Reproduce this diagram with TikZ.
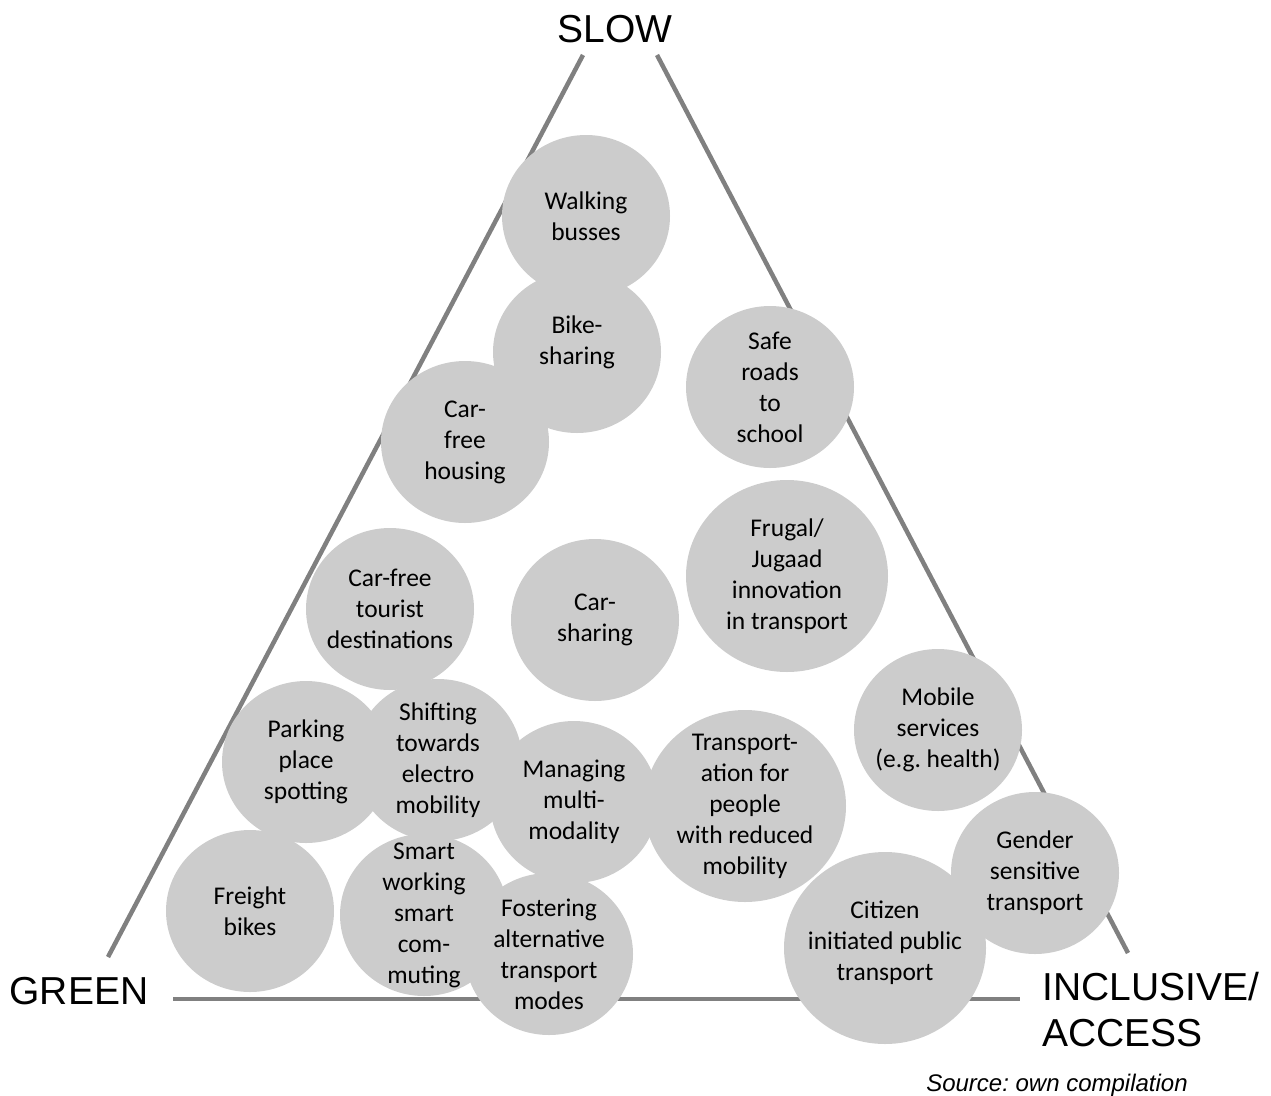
\documentclass[tikz,border=0pt]{standalone}
\usepackage{fontspec}
\setmainfont{Carlito}
\newfontfamily\arialfont{Liberation Sans}
\usetikzlibrary{shapes.geometric}
\definecolor{bubblegray}{RGB}{204,204,204}
\definecolor{axisgray}{RGB}{128,128,128}
\frenchspacing
\begin{document}
\begin{tikzpicture}[x=1pt,y=-1pt,
   bubble/.style={ellipse,fill=bubblegray,minimum width=168pt,minimum height=162pt,inner sep=0pt},
   big/.style={minimum width=202pt,minimum height=192pt},
   txt/.style={align=center,inner sep=0pt,font=\fontsize{25.5}{31}\selectfont},
   corner/.style={inner sep=0pt,font=\arialfont\fontsize{39}{46}\selectfont},
   axis/.style={draw=axisgray,line width=4.5pt}]
   \useasboundingbox (0,0) rectangle (1271,1095);
   % triangle
   \coordinate (topL) at (583,55);
   \coordinate (topR) at (657,55);
   \coordinate (leftB) at (108,957);
   \coordinate (rightB) at (1128,953);
   \coordinate (botL) at (173,999);
   \coordinate (botR) at (1020,999);
   \draw[axis] (topL) -- (leftB);
   \draw[axis] (topR) -- (rightB);
   \draw[axis] (botL) -- (botR);
   \node[corner] (slow) at (615,29) {SLOW};
   \node[corner] (green) at (79,991) {GREEN};
   \node[corner,align=left,anchor=west] (access) at (1042,1010) {INCLUSIVE/\\ACCESS};
   \node[inner sep=0pt,anchor=base,font=\arialfont\itshape\fontsize{24}{28}\selectfont] (source) at (1057,1091) {Source: own compilation};
   % bubbles
   \node[bubble] (walk) at (586,216) {};
   \node[bubble] (bike) at (577,352) {};
   \node[bubble] (housing) at (465,442) {};
   \node[bubble] (school) at (770,387) {};
   \node[bubble] (tourist) at (390,609) {};
   \node[bubble] (carshare) at (595,620) {};
   \node[bubble,big] (frugal) at (787,576) {};
   \node[bubble] (mobile) at (938,730) {};
   \node[bubble] (parking) at (306,762) {};
   \node[bubble] (electro) at (438,760) {};
   \node[bubble] (multi) at (574,802) {};
   \node[bubble,big] (reduced) at (745,806) {};
   \node[bubble] (gender) at (1035,873) {};
   \node[bubble] (freight) at (250,911) {};
   \node[bubble] (smart) at (424,915) {};
   \node[bubble] (foster) at (549,954) {};
   \node[bubble,big] (citizen) at (885,948) {};
   % texts
   \node[txt] (walk-t) at (walk) {Walking\\busses};
   \node[txt] (bike-t) at ([yshift=10pt]bike.center) {Bike-\\sharing};
   \node[txt] (housing-t) at (housing) {Car-\\free\\housing};
   \node[txt] (school-t) at (school) {Safe\\roads\\to\\school};
   \node[txt] (tourist-t) at (tourist) {Car-free\\tourist\\destinations};
   \node[txt] (carshare-t) at (carshare) {Car-\\sharing};
   \node[txt] (frugal-t) at (frugal) {Frugal/\\Jugaad\\innovation\\in transport};
   \node[txt] (mobile-t) at (mobile) {Mobile\\services\\(e.g. health)};
   \node[txt] (parking-t) at (parking) {Parking\\place\\spotting};
   \node[txt] (electro-t) at (electro) {Shifting\\towards\\electro\\mobility};
   \node[txt] (multi-t) at (multi) {Managing\\multi-\\modality};
   \node[txt] (reduced-t) at (reduced) {Transport-\\ation for\\people\\with reduced\\mobility};
   \node[txt] (gender-t) at (gender) {Gender\\sensitive\\transport};
   \node[txt] (freight-t) at (freight) {Freight\\bikes};
   \node[txt] (smart-t) at (smart) {Smart\\working\\smart\\com-\\muting};
   \node[txt] (foster-t) at (foster) {Fostering\\alternative\\transport\\modes};
   \node[txt] (citizen-t) at ([yshift=5pt]citizen.center) {Citizen\\initiated public\\transport};
\end{tikzpicture}
\end{document}
